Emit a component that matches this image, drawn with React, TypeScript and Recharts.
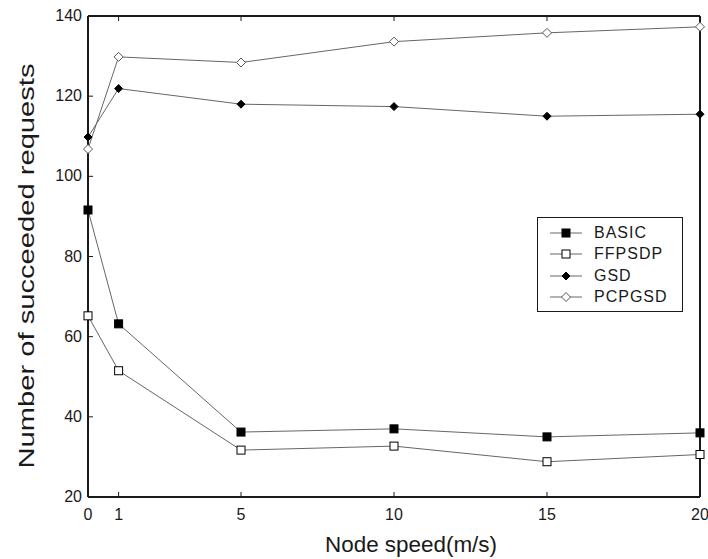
import { LineChart, Line, XAxis, YAxis, Legend } from 'recharts';

const speeds = [0, 1, 5, 10, 15, 20];
const basic = [91.6, 63.2, 36.2, 37, 35, 36];
const ffpsdp = [65.2, 51.5, 31.7, 32.7, 28.8, 30.6];
const gsd = [109.8, 121.9, 118, 117.4, 115, 115.5];
const pcpgsd = [106.8, 129.8, 128.4, 133.6, 135.8, 137.3];

const xTicks = [0, 1, 5, 10, 15, 20];
const yTicks = [20, 40, 60, 80, 100, 120, 140];

const seriesNames = ['BASIC', 'FFPSDP', 'GSD', 'PCPGSD'];

const data = speeds.map((s, i) => ({
  speed: s,
  BASIC: basic[i],
  FFPSDP: ffpsdp[i],
  GSD: gsd[i],
  PCPGSD: pcpgsd[i],
}));

const FONT = '"Liberation Sans", Arial, Helvetica, sans-serif';
const LINE = '#666';
const INK = '#1a1a1a';

type Shape = 'square' | 'diamond';

function marker(cx: number, cy: number, shape: Shape, filled: boolean, key?: string) {
  const fill = filled ? '#000' : '#fff';
  if (shape === 'square') {
    return (
      <rect key={key} x={cx - 4} y={cy - 4} width={8} height={8} fill={fill} stroke="#000" strokeWidth={1} />
    );
  }
  const r = filled ? 4 : 4.5;
  return (
    <polygon
      key={key}
      points={`${cx},${cy - r} ${cx + r},${cy} ${cx},${cy + r} ${cx - r},${cy}`}
      fill={fill}
      stroke={filled ? '#000' : '#555'}
      strokeWidth={1}
    />
  );
}

const markerStyle: Record<string, { shape: Shape; filled: boolean }> = {
  BASIC: { shape: 'square', filled: true },
  FFPSDP: { shape: 'square', filled: false },
  GSD: { shape: 'diamond', filled: true },
  PCPGSD: { shape: 'diamond', filled: false },
};

const makeDot = (name: string) => (props: any) => {
  const { cx, cy, index } = props;
  const m = markerStyle[name];
  return marker(cx, cy, m.shape, m.filled, `${name}-${index}`);
};

// ticks point inward like the matlab box
const BottomTick = (props: any) => {
  const { x, y, payload } = props;
  return (
    <g>
      <line x1={x} y1={y} x2={x} y2={y - 5} stroke={INK} strokeWidth={1} />
      <text x={x} y={y + 23} textAnchor="middle" fontSize={16} fontFamily={FONT} fill={INK}>
        {payload.value}
      </text>
    </g>
  );
};

const LeftTick = (props: any) => {
  const { x, y, payload } = props;
  return (
    <g>
      <line x1={x} y1={y} x2={x + 5} y2={y} stroke={INK} strokeWidth={1} />
      <text x={x - 6} y={y + 5} textAnchor="end" fontSize={16} fontFamily={FONT} fill={INK}>
        {payload.value}
      </text>
    </g>
  );
};

const TopTick = (props: any) => {
  const { x, y } = props;
  return <line x1={x} y1={y} x2={x} y2={y + 5} stroke={INK} strokeWidth={1} />;
};

const RightTick = (props: any) => {
  const { x, y } = props;
  return <line x1={x} y1={y} x2={x - 5} y2={y} stroke={INK} strokeWidth={1} />;
};

const LegendBox = () => (
  <div
    style={{
      width: 146,
      height: 95,
      border: `1.5px solid ${INK}`,
      background: '#fff',
      boxSizing: 'border-box',
      paddingTop: 4,
    }}
  >
    {seriesNames.map((name) => {
      const m = markerStyle[name];
      return (
        <div key={name} style={{ display: 'flex', alignItems: 'center', height: 21.5 }}>
          <svg width={46} height={14} style={{ marginLeft: 10 }}>
            <line x1={2} y1={7} x2={34} y2={7} stroke={LINE} strokeWidth={1} />
            {marker(18, 7, m.shape, m.filled)}
          </svg>
          <span style={{ fontFamily: FONT, fontSize: 16, color: INK, letterSpacing: 1 }}>{name}</span>
        </div>
      );
    })}
  </div>
);

export default function App() {
  return (
    <div style={{ position: 'absolute', left: 0, top: 0, width: 708, height: 559, background: '#fff' }}>
      <LineChart width={708} height={559} data={data} margin={{ top: 15, right: 7, bottom: 61, left: 87 }}>
        <XAxis
          dataKey="speed"
          type="number"
          domain={[0, 20]}
          ticks={xTicks}
          interval={0}
          height={1}
          tickSize={0}
          tickMargin={0}
          tick={<BottomTick />}
          axisLine={{ stroke: INK, strokeWidth: 2 }}
        />
        <XAxis
          xAxisId="top"
          orientation="top"
          dataKey="speed"
          type="number"
          domain={[0, 20]}
          ticks={xTicks}
          interval={0}
          height={1}
          tickSize={0}
          tickMargin={0}
          tick={<TopTick />}
          axisLine={{ stroke: INK, strokeWidth: 2 }}
        />
        <YAxis
          type="number"
          domain={[20, 140]}
          ticks={yTicks}
          interval={0}
          width={1}
          tickSize={0}
          tickMargin={0}
          tick={<LeftTick />}
          axisLine={{ stroke: INK, strokeWidth: 2 }}
        />
        <YAxis
          yAxisId="right"
          orientation="right"
          type="number"
          domain={[20, 140]}
          ticks={yTicks}
          interval={0}
          width={1}
          tickSize={0}
          tickMargin={0}
          tick={<RightTick />}
          axisLine={{ stroke: INK, strokeWidth: 2 }}
        />
        <Legend
          layout="horizontal"
          verticalAlign="middle"
          align="center"
          content={<LegendBox />}
          wrapperStyle={{ position: 'absolute', left: 537, top: 217, width: 146, height: 95 }}
        />
        {seriesNames.map((name) => (
          <Line
            key={name}
            dataKey={name}
            stroke={LINE}
            strokeWidth={1}
            dot={makeDot(name)}
            activeDot={false}
            isAnimationActive={false}
          />
        ))}
        <text
          x={26}
          y={266}
          transform="rotate(-90 26 266)"
          textAnchor="middle"
          fontSize={22}
          fontFamily={FONT}
          fill={INK}
          dominantBaseline="central"
          textLength={405}
          lengthAdjust="spacingAndGlyphs"
        >
          Number of succeeded requests
        </text>
        <text
          x={411}
          y={552}
          textAnchor="middle"
          fontSize={22}
          fontFamily={FONT}
          fill={INK}
          textLength={172}
          lengthAdjust="spacingAndGlyphs"
        >
          Node speed(m/s)
        </text>
      </LineChart>
    </div>
  );
}
